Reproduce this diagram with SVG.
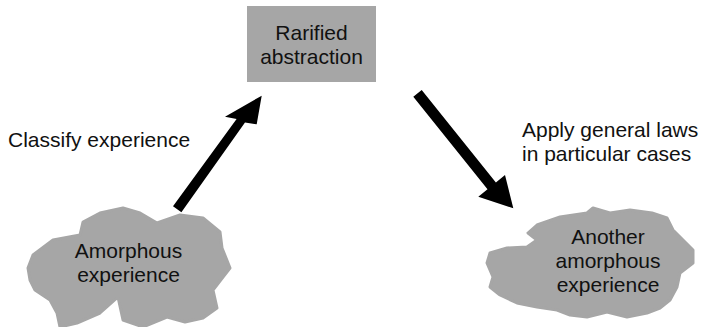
<svg xmlns="http://www.w3.org/2000/svg" width="712" height="327" viewBox="0 0 712 327">
<style>
.shape{fill:#a6a6a6;stroke:#a6a6a6;stroke-width:3;stroke-linejoin:round}
.t{font-family:"Liberation Sans",Arial,sans-serif;font-size:21px;fill:#111}
.c{text-anchor:middle}
.arrow{fill:#000}
</style>
<rect width="712" height="327" fill="#fff"/>
<g id="abstraction">
<rect x="247" y="6" width="129" height="76" fill="#a6a6a6"/>
<text class="t c" x="311.5" y="39.5">Rarified</text>
<text class="t c" x="311.5" y="63.5">abstraction</text>
</g>
<g id="experience1">
<polygon class="shape" points="28,268 33,255 53,240 80,235 83,222 100,213 123,208 140,213 157,223 180,215 203,218 220,232 222,248 230,268 223,277 213,290 217,308 203,318 185,322 167,317 143,327 123,320 118,297 100,313 77,323 60,327 57,313 50,300 35,290 30,280"/>
<text class="t c" x="128.5" y="258">Amorphous</text>
<text class="t c" x="128.5" y="282">experience</text>
</g>
<g id="experience2">
<polygon class="shape" points="528,233 537,225 560,217 587,213 593,208 610,213 630,210 652,213 667,218 673,230 680,237 693,250 693,263 680,273 677,287 670,300 660,308 647,313 627,317 607,312 587,317 570,315 557,310 537,307 517,303 500,295 490,287 493,277 487,263 490,253 507,248 527,247 537,240"/>
<text class="t c" x="608" y="244">Another</text>
<text class="t c" x="608" y="268">amorphous</text>
<text class="t c" x="608" y="292">experience</text>
</g>
<g id="connectors">
<polygon class="arrow" points="173,206.2 236.6,119 225,116.7 261.7,95.7 256.7,124.3 245,122.5 181.4,212.2"/>
<polygon class="arrow" points="421.7,90 495.9,182.5 505,175 513.3,208.3 478.3,196.7 487.5,189.2 413.3,96.7"/>
<text class="t" x="8" y="146.7">Classify experience</text>
<text class="t" x="522" y="136.5">Apply general laws</text>
<text class="t" x="522" y="160.5">in particular cases</text>
</g>
</svg>
